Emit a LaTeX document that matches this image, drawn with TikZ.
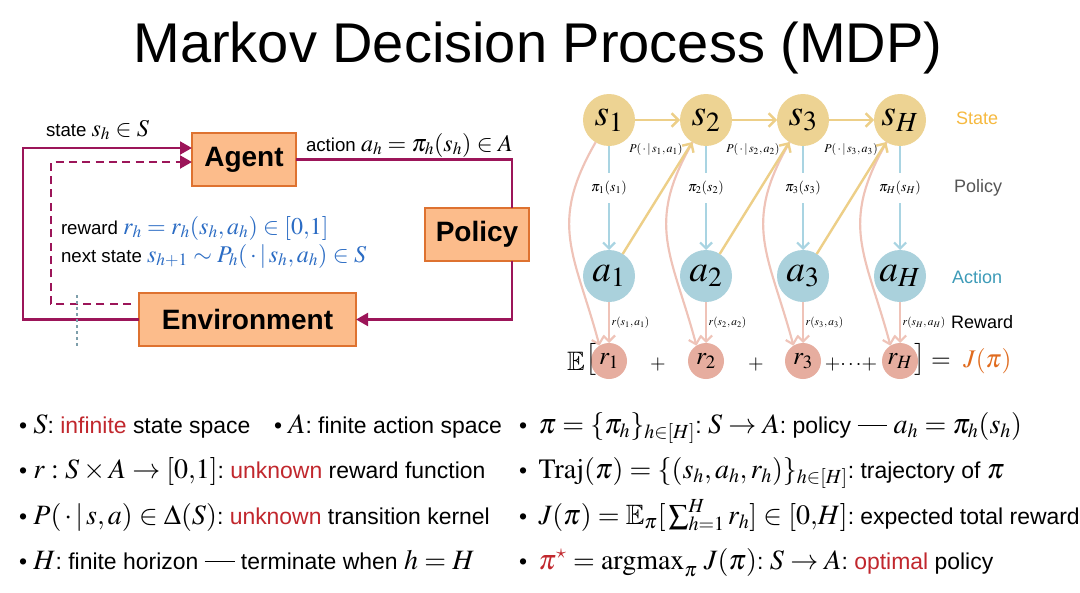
\documentclass[tikz,border=0pt]{standalone}
\usepackage{mathptmx}
\usepackage{amsmath,amssymb}
\usepackage[no-math]{fontspec}
\setmainfont{Liberation Sans}
\usetikzlibrary{arrows.meta,calc}
\DeclareMathSizes{14}{18}{13}{10}
\DeclareMathSizes{17.2}{21}{15}{11}
\definecolor{mdpMaroon}{HTML}{9C1559}
\definecolor{boxFill}{HTML}{FCBC8B}
\definecolor{boxEdge}{HTML}{DE7230}
\definecolor{blueTxt}{HTML}{2B6CC4}
\definecolor{redTxt}{HTML}{C1272D}
\definecolor{sFill}{HTML}{EDD393}
\definecolor{aFill}{HTML}{AAD1DC}
\definecolor{rFill}{HTML}{E6AD9F}
\definecolor{sArr}{HTML}{EDCF88}
\definecolor{aArr}{HTML}{A9D4E2}
\definecolor{pArr}{HTML}{EFC3B8}
\definecolor{stateCol}{HTML}{F6B93F}
\definecolor{actionCol}{HTML}{3D9BB8}
\definecolor{policyCol}{HTML}{555555}
\definecolor{jCol}{HTML}{E06B1E}
\definecolor{dotCol}{HTML}{7E9FAB}
\newcommand\fsz[1]{\fontsize{#1}{#1}\selectfont}
\newcommand\longdash{\rule[0.3em]{1.3em}{0.07em}}
\begin{document}
\frenchspacing
\begin{tikzpicture}[x=0.75pt,y=-0.75pt,
 every node/.style={inner sep=0pt, outer sep=0pt},
 box/.style={draw=boxEdge, fill=boxFill, line width=1.5pt, font=\fsz{21}\bfseries, minimum height=39.75pt},
 mline/.style={draw=mdpMaroon, line width=2.2pt},
 mtip/.style={-{Triangle[length=9pt,width=9.5pt]}},
 lbl/.style={font=\fsz{14}, anchor=base west},
 snode/.style={circle, fill=sFill, minimum size=39pt, font=\fsz{28}},
 anode/.style={circle, fill=aFill, minimum size=39pt, font=\fsz{28}},
 rnode/.style={circle, fill=rFill, minimum size=27pt, font=\fsz{19}},
 yarr/.style={draw=sArr, line width=1.8pt, -{Straight Barb[length=5pt,width=10pt]}},
 barr/.style={draw=aArr, line width=1.6pt, -{Straight Barb[length=4.5pt,width=9pt]}},
 parr/.style={draw=pArr, line width=1.6pt, -{Straight Barb[length=4.5pt,width=9pt]}},
 smalllab/.style={font=\fsz{8.5}},
 plab/.style={font=\fsz{9}},
 pil/.style={font=\fsz{10.5}, fill=white, inner xsep=1pt, inner ysep=6pt},
 sidelab/.style={font=\fsz{13.5}},
 bul/.style={font=\fsz{17.2}, anchor=base west},
]
\useasboundingbox (0,0) rectangle (1080,592);
\fill[white] (0,0) rectangle (1080,592);

% title
\node[font=\fsz{42}, anchor=base] (title) at (538,63) {Markov Decision Process (MDP)};

% left diagram
\node[box, minimum width=78pt] (agent) at (244,159.5) {Agent};
\node[box, minimum width=78pt] (policy) at (477,234.5) {Policy};
\node[box, minimum width=162.75pt] (env) at (247.5,319.5) {Environment};

\coordinate (c1) at (23,148);
\draw[mline, mtip] (env.west) -| (c1) -- (agent.west |- c1);
\coordinate (d0) at (131,304);
\coordinate (d1) at (51,162);
\draw[mline, mtip, dash pattern=on 6pt off 4pt] (d0) -| (d1) -- (agent.west |- d1);
\draw[mline] (agent.east) -| ($(policy.north)+(35,0)$);
\draw[mline, mtip] ($(policy.south)+(35,0)$) |- (env.east);
\coordinate (g0) at (77,295);
\coordinate (g1) at (77,346);
\draw[dotCol, line width=1.2pt, dash pattern=on 2.5pt off 2pt] (g0) -- (g1);

\node[lbl] (stl) at (46,136) {state $s_h\in S$};
\node[lbl] (actl) at (306,151) {action $a_h=\pi_h(s_h)\in A$};
\node[lbl] (rewl) at (61,234) {reward {\color{blueTxt}$r_h=r_h(s_h,a_h)\in[0{,}1]$}};
\node[lbl] (nxtl) at (61,262) {next state {\color{blueTxt}$s_{h+1}\sim P_h(\,\cdot\,|\,s_h,a_h)\in S$}};

% right diagram
\foreach \i/\x in {1/609,2/706,3/803,H/900} {
  \node[snode] (s\i) at (\x,120) {$s_{\i}$};
  \node[anode] (a\i) at (\x,276) {$a_{\i}$};
  \node[rnode] (r\i) at (\x,361) {$r_{\i}$};
}
\foreach \i in {1,2,3,H} {
  \draw[barr] (s\i) -- node[pil, pos=0.404] (pi\i) {$\pi_{\i}(s_{\i})$} (a\i);
  \draw[parr] (a\i) -- node[smalllab, right=2pt] (rl\i) {$r(s_{\i},a_{\i})$} (r\i);
  \draw[parr] (s\i.239) to[out=240,in=105,looseness=1.2] (r\i.122);
}
\foreach \i/\j in {1/2,2/3,3/H} {
  \draw[yarr] (s\i) -- (s\j);
  \draw[yarr] (a\i) -- (s\j);
}
\foreach \i/\x in {1/656,2/753,3/851} {
  \node[plab] (p\i) at (\x,149) {$P(\,\cdot\,|\,s_{\i},a_{\i})$};
}
\node[sidelab, text=stateCol] (lstate) at (977,118) {State};
\node[sidelab, text=policyCol] (lpolicy) at (978,188) {Policy};
\node[sidelab, text=actionCol] (laction) at (977,277) {Action};
\node[sidelab, text=black, anchor=west] (lreward) at (951,322) {Reward};

\node[font=\fsz{20}] (E) at (576,361) {$\mathbb{E}$};
\node[font=\fsz{20}] (lb) at (591,359) {$\big[$};
\node[font=\fsz{15}] (pl1) at (658,364) {$+$};
\node[font=\fsz{15}] (pl2) at (756,364) {$+$};
\node[font=\fsz{15}] (pl3) at (851,364) {$+\!\cdots\!+$};
\node[font=\fsz{20}] (rb) at (920,359) {$\big]$};
\node[font=\fsz{19}, anchor=west] (jp) at (931,361) {$=\ {\color{jCol}J(\pi)}$};

% bullets
\node[bul] (lt1a) at (19,433) {\textbullet\ $S$: \textcolor{redTxt}{infinite} state space};
\node[bul] (lt1b) at (274,433) {\textbullet\ $A$: finite action space};
\node[bul] (lt2) at (19,478) {\textbullet\ $r:S\times A\to[0{,}1]$: \textcolor{redTxt}{unknown} reward function};
\node[bul] (lt3) at (19,524) {\textbullet\ $P(\,\cdot\,|\,s,a)\in\Delta(S)$: \textcolor{redTxt}{unknown} transition kernel};
\node[bul] (lt4) at (19,569) {\textbullet\ $H$: finite horizon \longdash\ terminate when $h=H$};

\node[bul] (rt1) at (519,433) {\textbullet\enspace $\pi=\{\pi_h\}_{h\in[H]}$: $S\to A$: policy \longdash\ $a_h=\pi_h(s_h)$};
\node[bul] (rt2) at (519,478) {\textbullet\enspace $\mathrm{Traj}(\pi)=\{(s_h,a_h,r_h)\}_{h\in[H]}$: trajectory of $\pi$};
\node[bul] (rt3) at (519,524) {\textbullet\enspace $J(\pi)=\mathbb{E}_\pi[\,\sum_{h=1}^H r_h]\in[0{,}H]$: expected total reward};
\node[bul] (rt4) at (519,569) {\textbullet\enspace $\textcolor{redTxt}{\pi^\star}=\operatorname{argmax}_\pi\, J(\pi)$: $S\to A$: \textcolor{redTxt}{optimal} policy};
\end{tikzpicture}
\end{document}
